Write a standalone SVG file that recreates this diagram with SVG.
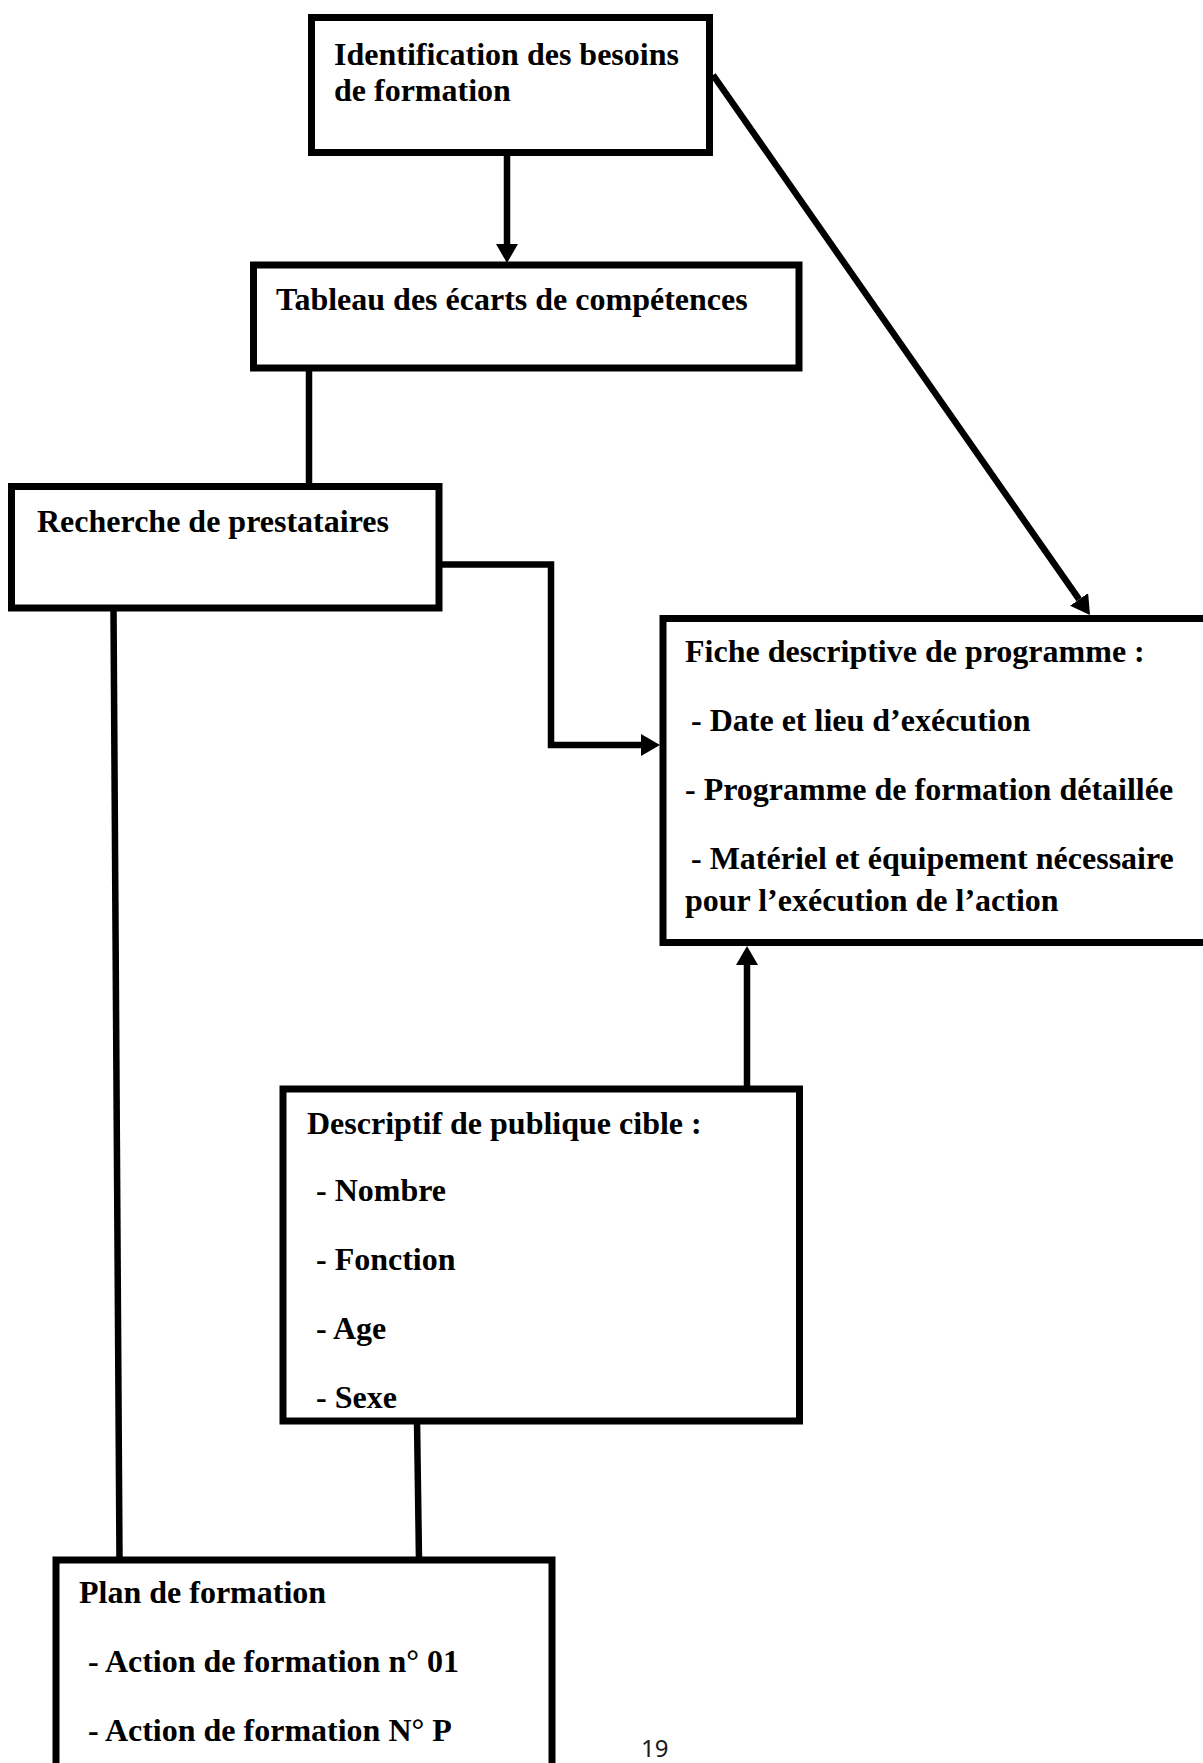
<svg xmlns="http://www.w3.org/2000/svg" width="1203" height="1763" viewBox="0 0 1203 1763">
<style>
  .box { fill: #ffffff; stroke: #000000; stroke-width: 7; }
  .t { font-family: "Liberation Serif", "Times New Roman", serif; font-weight: bold; font-size: 32px; fill: #000000; }
  .c { fill: none; stroke: #000000; stroke-width: 6.5; stroke-linejoin: miter; }
  .pg { font-family: "Noto Sans", "Open Sans", sans-serif; font-size: 24px; fill: #1a1a1a; }
</style>
<defs>
  <marker id="arr" markerUnits="userSpaceOnUse" markerWidth="20" markerHeight="23" refX="0" refY="11" orient="auto">
    <path d="M0,0 L19,11 L0,22 Z" fill="#000000"/>
  </marker>
</defs>
<rect x="0" y="0" width="1203" height="1763" fill="#ffffff"/>

<g id="connectors">
  <line class="c" x1="507" y1="152.5" x2="507" y2="244" marker-end="url(#arr)"/>
  <line class="c" x1="713" y1="75" x2="1079.1" y2="599.4" marker-end="url(#arr)"/>
  <line class="c" x1="309" y1="368" x2="309" y2="486.5"/>
  <polyline class="c" points="439,564.5 551,564.5 551,745 641,745" marker-end="url(#arr)"/>
  <line class="c" x1="113.5" y1="608" x2="119.5" y2="1560"/>
  <line class="c" x1="747" y1="1089" x2="747" y2="965" marker-end="url(#arr)"/>
  <line class="c" x1="417" y1="1421" x2="419" y2="1560"/>
</g>

<g id="node-identification">
  <rect class="box" x="311.5" y="17.5" width="398" height="135"/>
  <text class="t" x="334" y="65">Identification des besoins</text>
  <text class="t" x="334" y="101">de formation</text>
</g>

<g id="node-tableau">
  <rect class="box" x="253.5" y="265" width="545.5" height="103"/>
  <text class="t" x="276" y="310">Tableau des écarts de compétences</text>
</g>

<g id="node-recherche">
  <rect class="box" x="11.5" y="486.5" width="427.5" height="121.5"/>
  <text class="t" x="37" y="532">Recherche de prestataires</text>
</g>

<g id="node-fiche">
  <rect class="box" x="663" y="618.5" width="600" height="324"/>
  <text class="t" x="685" y="662">Fiche descriptive de programme :</text>
  <text class="t" x="691" y="731">- Date et lieu d’exécution</text>
  <text class="t" x="685" y="800">- Programme de formation détaillée</text>
  <text class="t" x="691" y="869">- Matériel et équipement nécessaire</text>
  <text class="t" x="685" y="911">pour l’exécution de l’action</text>
</g>

<g id="node-descriptif">
  <rect class="box" x="283" y="1089" width="516.5" height="332"/>
  <text class="t" x="307" y="1134">Descriptif de publique cible :</text>
  <text class="t" x="316" y="1201">- Nombre</text>
  <text class="t" x="316" y="1270">- Fonction</text>
  <text class="t" x="316" y="1339">- Age</text>
  <text class="t" x="316" y="1408">- Sexe</text>
</g>

<g id="node-plan">
  <rect class="box" x="56" y="1560" width="496" height="300"/>
  <text class="t" x="79" y="1603">Plan de formation</text>
  <text class="t" x="88" y="1672">- Action de formation n° 01</text>
  <text class="t" x="88" y="1741">- Action de formation N° P</text>
</g>

<text class="pg" x="641" y="1757">19</text>
</svg>
